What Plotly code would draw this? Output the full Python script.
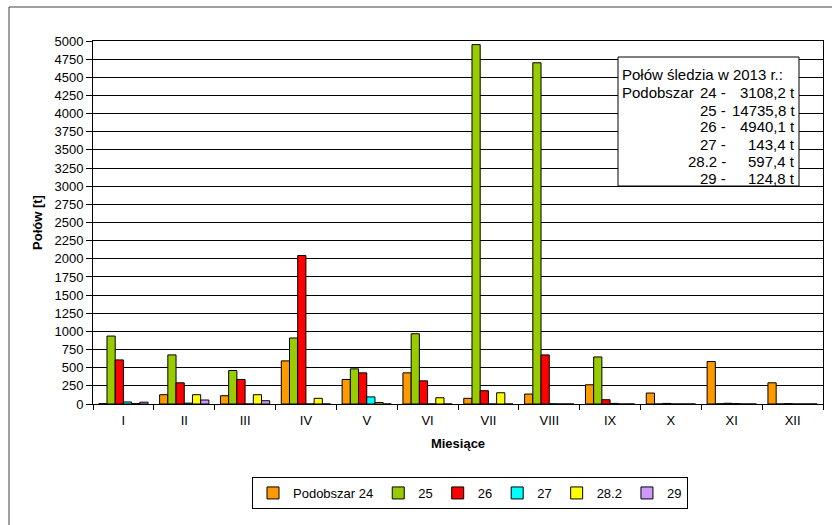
import plotly.graph_objects as go

# Monthly herring catch by sub-area, 2013
months = ["I", "II", "III", "IV", "V", "VI", "VII", "VIII", "IX", "X", "XI", "XII"]

sub_24 = [5, 128, 114, 594, 338, 429, 78, 137, 265, 151, 585, 292]
sub_25 = [936, 676, 461, 909, 484, 968, 4950, 4700, 648, 0, 3, 0]
sub_26 = [607, 292, 338, 2045, 429, 319, 183, 676, 59, 8, 10, 5]
sub_27 = [28, 12, 0, 0, 98, 0, 0, 3, 8, 0, 5, 0]
sub_28_2 = [5, 128, 128, 78, 20, 86, 155, 0, 0, 0, 0, 0]
sub_29 = [25, 55, 45, 0, 0, 0, 0, 0, 0, 0, 0, 0]

series_names = ["Podobszar 24", "25", "26", "27", "28.2", "29"]
series_values = [sub_24, sub_25, sub_26, sub_27, sub_28_2, sub_29]
series_colors = ["#FF9900", "#99CC00", "#FF0000", "#00FFFF", "#FFFF00", "#CC99FF"]

# Summary box texts
box_title = "Połów śledzia w 2013 r.:"
box_codes = ["24 -", "25 -", "26 -", "27 -", "28.2 -", "29 -"]
box_totals = ["3108,2 t", "14735,8 t", "4940,1 t", "143,4 t", "597,4 t", "124,8 t"]

FONT = "Arial, Liberation Sans, sans-serif"

# Plot area in pixels
W, H = 832, 525
L, R, T, B = 93, 823, 41, 404
PW, PH = R - L, B - T


def px_x(px):
    return (px - L) / PW


def px_y(py):
    return (B - py) / PH


fig = go.Figure()

for name, vals, col in zip(series_names, series_values, series_colors):
    fig.add_trace(go.Bar(
        x=months,
        y=vals,
        name=name,
        marker=dict(color=col, line=dict(color="#000000", width=1)),
    ))

fig.update_layout(
    width=W,
    height=H,
    barmode="group",
    bargap=0.19,
    bargroupgap=0,
    plot_bgcolor="#FFFFFF",
    paper_bgcolor="#FFFFFF",
    margin=dict(l=L, r=W - R, t=T, b=H - B),
    font=dict(family=FONT, size=13, color="#000000"),
    showlegend=True,
    legend=dict(
        orientation="h",
        x=px_x(470),
        xanchor="center",
        y=px_y(477),
        yanchor="top",
        bordercolor="#000000",
        borderwidth=1,
        font=dict(family=FONT, size=13, color="#000000"),
        itemwidth=30,
        tracegroupgap=0,
    ),
    xaxis=dict(
        type="category",
        showline=True,
        linecolor="#000000",
        linewidth=1,
        mirror=True,
        ticks="outside",
        tickson="boundaries",
        ticklen=5,
        tickcolor="#000000",
        ticklabelstandoff=4,
        showgrid=False,
        tickfont=dict(family=FONT, size=13),
        title=dict(text="<b>Miesiące</b>", font=dict(family=FONT, size=13), standoff=12),
    ),
    yaxis=dict(
        range=[0, 5000],
        dtick=250,
        tickformat="d",
        showline=True,
        linecolor="#000000",
        linewidth=1,
        mirror=True,
        ticks="outside",
        ticklen=6,
        tickcolor="#000000",
        showgrid=True,
        gridcolor="#000000",
        gridwidth=1,
        zeroline=False,
        tickfont=dict(family=FONT, size=13),
        title=dict(text="<b>Połów [t]</b>", font=dict(family=FONT, size=13), standoff=8),
    ),
)

# Summary text box
BOX_FONT = dict(family=FONT, size=15, color="#000000")
fig.add_shape(
    type="rect", xref="paper", yref="paper",
    x0=px_x(618), x1=px_x(799), y0=px_y(186), y1=px_y(57),
    line=dict(color="#000000", width=1), fillcolor="#FFFFFF", layer="above",
)

row_y = [92.5, 110, 127, 144, 161, 178]
fig.add_annotation(
    text=box_title, xref="paper", yref="paper", x=px_x(620), y=px_y(75),
    xanchor="left", yanchor="middle", showarrow=False, font=BOX_FONT,
)
fig.add_annotation(
    text="Podobszar", xref="paper", yref="paper", x=px_x(620), y=px_y(row_y[0]),
    xanchor="left", yanchor="middle", showarrow=False, font=BOX_FONT,
)
for code, total, ry in zip(box_codes, box_totals, row_y):
    fig.add_annotation(
        text=code, xref="paper", yref="paper", x=px_x(728), y=px_y(ry),
        xanchor="right", yanchor="middle", showarrow=False, font=BOX_FONT,
    )
    fig.add_annotation(
        text=total, xref="paper", yref="paper", x=px_x(797), y=px_y(ry),
        xanchor="right", yanchor="middle", showarrow=False, font=BOX_FONT,
    )

# Outer chart frame (top and left edges visible)
fig.add_shape(type="line", xref="paper", yref="paper",
              x0=px_x(9), x1=px_x(840), y0=px_y(7), y1=px_y(7),
              line=dict(color="#404040", width=1))
fig.add_shape(type="line", xref="paper", yref="paper",
              x0=px_x(9), x1=px_x(9), y0=px_y(7), y1=px_y(530),
              line=dict(color="#404040", width=1))

# drop the default page margin so the figure sits at the window origin
fig.write_html(
    "out.html",
    config={"displayModeBar": False},
    post_script="document.body.style.margin='0';",
)
